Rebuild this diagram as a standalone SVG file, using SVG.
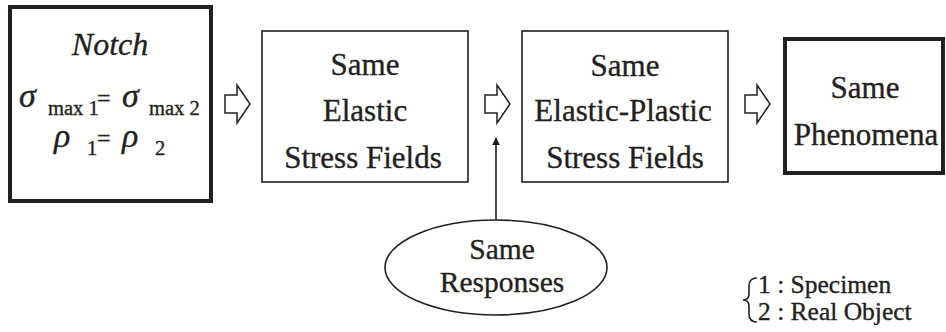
<svg xmlns="http://www.w3.org/2000/svg" xmlns:xlink="http://www.w3.org/1999/xlink" width="946" height="332" viewBox="0 0 946 332">
<style>
text{font-family:"Liberation Serif","DejaVu Serif",serif;fill:#231f20;stroke:#231f20;stroke-width:0.35;}
.big{font-size:31px;text-anchor:middle;}
.ell{font-size:29.5px;text-anchor:middle;}
.thick{fill:#fff;stroke:#231f20;stroke-width:4;}
.thin{fill:#fff;stroke:#231f20;stroke-width:1.6;}
.blk{fill:#fff;stroke:#231f20;stroke-width:1.5;stroke-linejoin:miter;}
.gr{font-size:34px;font-style:italic;}
.sub{font-size:20.5px;}
.eq{font-size:24px;}
.leg{font-size:25.5px;}
</style>
<defs>
<path id="blkarrow" d="M225,95 L237,95 L237,85 L250,104 L237,123 L237,113 L225,113 Z"/>
<marker id="ah" viewBox="0 0 10 10" refX="9" refY="5" markerWidth="8" markerHeight="8" markerUnits="userSpaceOnUse" orient="auto">
<path d="M0,0 L10,5 L0,10 Z" fill="#231f20"/>
</marker>
</defs>
<rect width="946" height="332" fill="#fff"/>

<g id="notch">
<rect class="thick" x="10" y="7" width="201" height="194"/>
<text x="110" y="55" font-size="32" font-style="italic" text-anchor="middle">Notch</text>
<text class="gr" x="19" y="107">σ</text>
<text class="sub" x="48" y="115">max 1</text>
<text class="eq" x="97" y="106">=</text>
<text class="gr" x="122" y="107">σ</text>
<text class="sub" x="149" y="115">max 2</text>
<text class="gr" x="54" y="147">ρ</text>
<text class="sub" x="87" y="155">1</text>
<text class="eq" x="97" y="146">=</text>
<text class="gr" x="122" y="147">ρ</text>
<text class="sub" x="155" y="155">2</text>
</g>

<g id="elastic">
<rect class="thin" x="262" y="31" width="206" height="151"/>
<text class="big" x="365" y="75">Same</text>
<text class="big" x="365" y="121">Elastic</text>
<text class="big" x="363" y="168">Stress Fields</text>
</g>

<g id="elastic-plastic">
<rect class="thin" x="522" y="31" width="206" height="151"/>
<text class="big" x="625" y="76">Same</text>
<text class="big" x="623" y="121">Elastic-Plastic</text>
<text class="big" x="625" y="168">Stress Fields</text>
</g>

<g id="phenomena">
<rect class="thick" x="785" y="39" width="158" height="134"/>
<text class="big" x="865" y="98">Same</text>
<text class="big" x="866" y="145">Phenomena</text>
</g>

<g id="responses">
<ellipse class="thin" cx="496" cy="267.5" rx="111" ry="47.5"/>
<text class="ell" x="502" y="259">Same</text>
<text class="ell" x="502" y="292">Responses</text>
</g>

<g id="legend">
<path d="M757,278 Q749,278 749,286 L749,294 Q749,300 743,300 Q749,300 749,306 L749,314 Q749,322 757,322" fill="none" stroke="#231f20" stroke-width="1.6"/>
<text class="leg" x="758" y="293">1 : Specimen</text>
<text class="leg" x="758" y="320">2 : Real Object</text>
</g>

<g id="connectors">
<use xlink:href="#blkarrow" class="blk"/>
<use xlink:href="#blkarrow" class="blk" transform="translate(260,0)"/>
<use xlink:href="#blkarrow" class="blk" transform="translate(520,0)"/>
<line x1="496" y1="220" x2="496" y2="138" stroke="#231f20" stroke-width="1.6" marker-end="url(#ah)"/>
</g>
</svg>
